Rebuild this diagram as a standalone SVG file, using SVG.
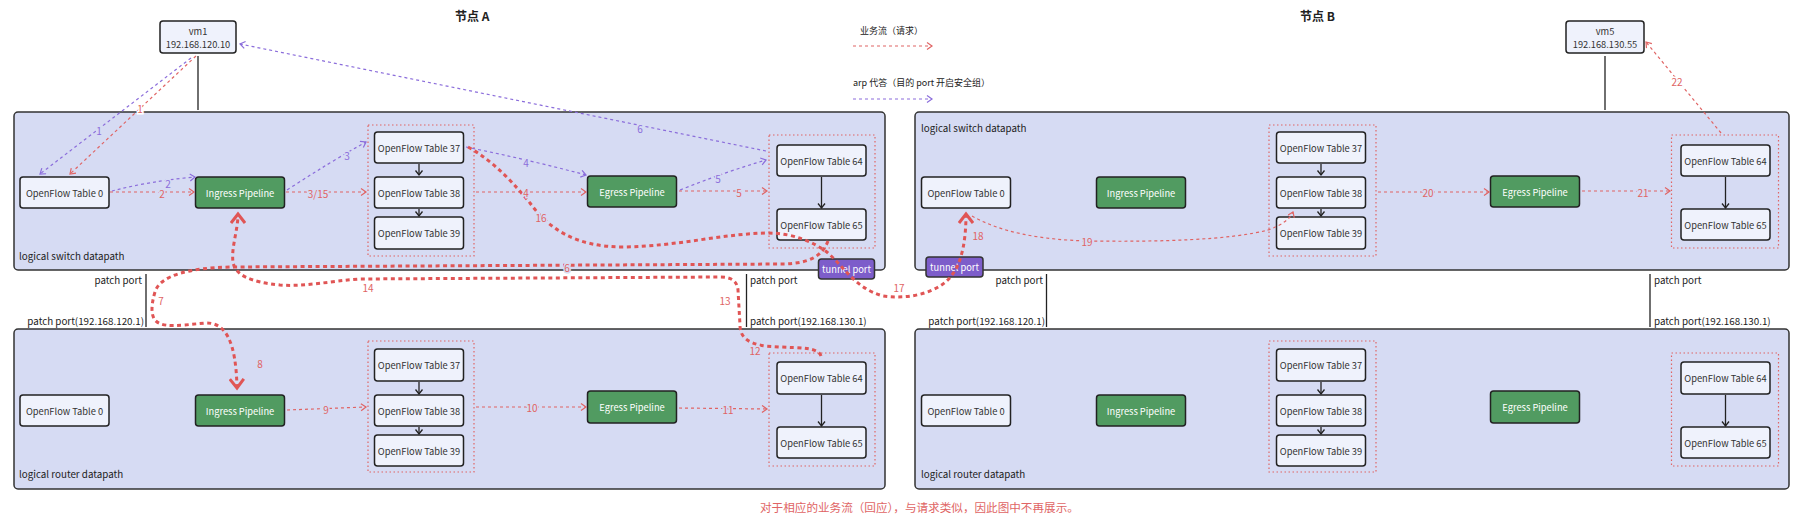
<svg xmlns="http://www.w3.org/2000/svg" width="1797" height="524" viewBox="0 0 1797 524">
<style>
text{font-family:"Noto Sans CJK SC","Noto Sans",sans-serif;}
.box{fill:#d6dbf3;stroke:#333;stroke-width:1.5;}
.node{fill:#eff2fc;stroke:#222;stroke-width:1.5;}
.green{fill:#519b61;stroke:#222;stroke-width:1.5;}
.tun{fill:#7d5dca;stroke:#333;stroke-width:1.5;}
.grp{fill:none;stroke:#e06464;stroke-width:1.2;stroke-dasharray:1.5 2.5;}
.nt{font-size:9.3px;fill:#333;text-anchor:middle;dominant-baseline:central;}
.wt{font-size:9.3px;fill:#fff;text-anchor:middle;dominant-baseline:central;}
.cap{font-size:9.8px;fill:#222;}
.title{font-size:12px;font-weight:bold;fill:#222;}
.red{fill:none;stroke:#e06464;stroke-width:1.2;stroke-dasharray:3 3;}
.pur{fill:none;stroke:#8b6ddb;stroke-width:1.2;stroke-dasharray:3 3;}
.thick{fill:none;stroke:#e05555;stroke-width:3;stroke-dasharray:4 3.5;}
.blk{fill:none;stroke:#222;stroke-width:1.3;}
.lr{font-size:10px;fill:#e06464;text-anchor:middle;dominant-baseline:central;paint-order:stroke;stroke:#d6dbf3;stroke-width:3;}
.lrw{font-size:10px;fill:#e06464;text-anchor:middle;dominant-baseline:central;paint-order:stroke;stroke:#fff;stroke-width:3;}
.lp{font-size:10px;fill:#8b6ddb;text-anchor:middle;dominant-baseline:central;paint-order:stroke;stroke:#d6dbf3;stroke-width:3;}
</style>
<defs>
<marker id="ar" markerUnits="userSpaceOnUse" markerWidth="10" markerHeight="10" refX="6" refY="4" orient="auto"><path d="M1,0.5 L6,4 L1,7.5" fill="none" stroke="#e06464" stroke-width="1.2"/></marker>
<marker id="ap" markerUnits="userSpaceOnUse" markerWidth="10" markerHeight="10" refX="6" refY="4" orient="auto"><path d="M1,0.5 L6,4 L1,7.5" fill="none" stroke="#8b6ddb" stroke-width="1.2"/></marker>
<marker id="at" markerUnits="userSpaceOnUse" markerWidth="16" markerHeight="16" refX="10" refY="8" orient="auto"><path d="M1,1 L10,8 L1,15" fill="none" stroke="#e05555" stroke-width="3"/></marker>
<marker id="ab" markerUnits="userSpaceOnUse" markerWidth="10" markerHeight="10" refX="5" refY="4" orient="auto"><path d="M0.5,0.5 L5,4 L0.5,7.5" fill="none" stroke="#222" stroke-width="1.3"/></marker>
</defs>
<rect width="1797" height="524" fill="#fff"/>

<text class="title" x="455" y="21">节点 A</text>
<text class="title" x="1300" y="21">节点 B</text>

<g id="legend">
<text class="cap" x="860" y="34" style="font-size:9px">业务流（请求）</text>
<path class="red" d="M853,46 L932,46" marker-end="url(#ar)"/>
<text class="cap" x="853" y="86" style="font-size:9px">arp 代答（目的 port 开启安全组）</text>
<path class="pur" d="M853,99 L932,99" marker-end="url(#ap)"/>
</g>

<g id="switchA">
<rect class="box" x="14" y="112" width="871" height="158" rx="4"/>
<text class="cap" x="19" y="260">logical switch datapath</text>
</g>
<g id="switchB">
<rect class="box" x="915" y="112" width="874" height="158" rx="4"/>
<text class="cap" x="921" y="132">logical switch datapath</text>
</g>
<g id="routerA">
<rect class="box" x="14" y="329" width="871" height="160" rx="4"/>
<text class="cap" x="19" y="478">logical router datapath</text>
</g>
<g id="routerB">
<rect class="box" x="915" y="329" width="874" height="160" rx="4"/>
<text class="cap" x="921" y="478">logical router datapath</text>
</g>

<g id="vm1"><rect class="node" x="160" y="21" width="76" height="32" rx="3"/><text class="nt" x="198" y="31">vm1</text><text class="nt" x="198" y="44">192.168.120.10</text></g>
<g id="vm5"><rect class="node" x="1566" y="21" width="78" height="32" rx="3"/><text class="nt" x="1605" y="31">vm5</text><text class="nt" x="1605" y="44">192.168.130.55</text></g>

<!-- switch A nodes -->
<g id="sA-t0"><rect class="node" x="20" y="177" width="89" height="31" rx="3"/><text class="nt" x="64.5" y="192.5">OpenFlow Table 0</text></g>
<g id="sA-ing"><rect class="green" x="195.5" y="177" width="89" height="31" rx="3"/><text class="wt" x="240" y="192.5">Ingress Pipeline</text></g>
<g id="sA-g1"><rect class="grp" x="368" y="125" width="106" height="131"/></g>
<g id="sA-t37"><rect class="node" x="374.5" y="132" width="89" height="31" rx="3"/><text class="nt" x="419" y="147.5">OpenFlow Table 37</text></g>
<g id="sA-t38"><rect class="node" x="374.5" y="177" width="89" height="31" rx="3"/><text class="nt" x="419" y="192.5">OpenFlow Table 38</text></g>
<g id="sA-t39"><rect class="node" x="374.5" y="217" width="89" height="32" rx="3"/><text class="nt" x="419" y="233">OpenFlow Table 39</text></g>
<g id="sA-eg"><rect class="green" x="587.5" y="176" width="89" height="31" rx="3"/><text class="wt" x="632" y="191.5">Egress Pipeline</text></g>
<g id="sA-g2"><rect class="grp" x="769" y="135" width="106" height="113"/></g>
<g id="sA-t64"><rect class="node" x="777" y="145" width="89" height="31" rx="3"/><text class="nt" x="821.5" y="160.5">OpenFlow Table 64</text></g>
<g id="sA-t65"><rect class="node" x="777" y="209" width="89" height="31" rx="3"/><text class="nt" x="821.5" y="224.5">OpenFlow Table 65</text></g>
<g id="tunA"><rect class="tun" x="818.5" y="259" width="56" height="20" rx="3"/><text class="wt" x="846.5" y="269">tunnel port</text></g>

<!-- switch B nodes -->
<g id="sB-t0"><rect class="node" x="921.5" y="177" width="89" height="31" rx="3"/><text class="nt" x="966" y="192.5">OpenFlow Table 0</text></g>
<g id="sB-ing"><rect class="green" x="1096.5" y="177" width="89" height="31" rx="3"/><text class="wt" x="1141" y="192.5">Ingress Pipeline</text></g>
<g id="sB-g1"><rect class="grp" x="1269" y="125" width="107" height="131"/></g>
<g id="sB-t37"><rect class="node" x="1276.5" y="132" width="89" height="31" rx="3"/><text class="nt" x="1321" y="147.5">OpenFlow Table 37</text></g>
<g id="sB-t38"><rect class="node" x="1276.5" y="177" width="89" height="31" rx="3"/><text class="nt" x="1321" y="192.5">OpenFlow Table 38</text></g>
<g id="sB-t39"><rect class="node" x="1276.5" y="217" width="89" height="32" rx="3"/><text class="nt" x="1321" y="233">OpenFlow Table 39</text></g>
<g id="sB-eg"><rect class="green" x="1490.5" y="176" width="89" height="31" rx="3"/><text class="wt" x="1535" y="191.5">Egress Pipeline</text></g>
<g id="sB-g2"><rect class="grp" x="1671.5" y="135" width="107" height="113"/></g>
<g id="sB-t64"><rect class="node" x="1681" y="145" width="89" height="31" rx="3"/><text class="nt" x="1725.5" y="160.5">OpenFlow Table 64</text></g>
<g id="sB-t65"><rect class="node" x="1681" y="209" width="89" height="31" rx="3"/><text class="nt" x="1725.5" y="224.5">OpenFlow Table 65</text></g>
<g id="tunB"><rect class="tun" x="926" y="257" width="57" height="20" rx="3"/><text class="wt" x="954.5" y="267">tunnel port</text></g>

<!-- router A nodes -->
<g id="rA-t0"><rect class="node" x="20" y="395" width="89" height="31" rx="3"/><text class="nt" x="64.5" y="410.5">OpenFlow Table 0</text></g>
<g id="rA-ing"><rect class="green" x="195.5" y="395" width="89" height="31" rx="3"/><text class="wt" x="240" y="410.5">Ingress Pipeline</text></g>
<g id="rA-g1"><rect class="grp" x="368" y="341" width="106" height="131"/></g>
<g id="rA-t37"><rect class="node" x="374.5" y="349" width="89" height="32" rx="3"/><text class="nt" x="419" y="365">OpenFlow Table 37</text></g>
<g id="rA-t38"><rect class="node" x="374.5" y="395" width="89" height="31" rx="3"/><text class="nt" x="419" y="410.5">OpenFlow Table 38</text></g>
<g id="rA-t39"><rect class="node" x="374.5" y="435" width="89" height="31" rx="3"/><text class="nt" x="419" y="450.5">OpenFlow Table 39</text></g>
<g id="rA-eg"><rect class="green" x="587.5" y="391" width="89" height="32" rx="3"/><text class="wt" x="632" y="407">Egress Pipeline</text></g>
<g id="rA-g2"><rect class="grp" x="769" y="353" width="106" height="113"/></g>
<g id="rA-t64"><rect class="node" x="777" y="362" width="89" height="32" rx="3"/><text class="nt" x="821.5" y="378">OpenFlow Table 64</text></g>
<g id="rA-t65"><rect class="node" x="777" y="427" width="89" height="31" rx="3"/><text class="nt" x="821.5" y="442.5">OpenFlow Table 65</text></g>

<!-- router B nodes -->
<g id="rB-t0"><rect class="node" x="921.5" y="395" width="89" height="31" rx="3"/><text class="nt" x="966" y="410.5">OpenFlow Table 0</text></g>
<g id="rB-ing"><rect class="green" x="1096.5" y="395" width="89" height="31" rx="3"/><text class="wt" x="1141" y="410.5">Ingress Pipeline</text></g>
<g id="rB-g1"><rect class="grp" x="1269" y="341" width="107" height="131"/></g>
<g id="rB-t37"><rect class="node" x="1276.5" y="349" width="89" height="32" rx="3"/><text class="nt" x="1321" y="365">OpenFlow Table 37</text></g>
<g id="rB-t38"><rect class="node" x="1276.5" y="395" width="89" height="31" rx="3"/><text class="nt" x="1321" y="410.5">OpenFlow Table 38</text></g>
<g id="rB-t39"><rect class="node" x="1276.5" y="435" width="89" height="31" rx="3"/><text class="nt" x="1321" y="450.5">OpenFlow Table 39</text></g>
<g id="rB-eg"><rect class="green" x="1490.5" y="391" width="89" height="32" rx="3"/><text class="wt" x="1535" y="407">Egress Pipeline</text></g>
<g id="rB-g2"><rect class="grp" x="1671.5" y="353" width="107" height="113"/></g>
<g id="rB-t64"><rect class="node" x="1681" y="362" width="89" height="32" rx="3"/><text class="nt" x="1725.5" y="378">OpenFlow Table 64</text></g>
<g id="rB-t65"><rect class="node" x="1681" y="427" width="89" height="31" rx="3"/><text class="nt" x="1725.5" y="442.5">OpenFlow Table 65</text></g>

<g id="patch-labels">
<text class="cap" x="142" y="284" text-anchor="end">patch port</text>
<text class="cap" x="144" y="325" text-anchor="end">patch port(192.168.120.1)</text>
<text class="cap" x="750" y="284">patch port</text>
<text class="cap" x="750" y="325">patch port(192.168.130.1)</text>
<text class="cap" x="1043" y="284" text-anchor="end">patch port</text>
<text class="cap" x="1045" y="325" text-anchor="end">patch port(192.168.120.1)</text>
<text class="cap" x="1654" y="284">patch port</text>
<text class="cap" x="1654" y="325">patch port(192.168.130.1)</text>
</g>

<g id="connectors">
<!-- solid links -->
<path class="blk" d="M198,56 L198,110"/>
<path class="blk" d="M1605,56 L1605,110"/>
<path class="blk" d="M146,274 L146,327"/>
<path class="blk" d="M746.5,274 L746.5,327"/>
<path class="blk" d="M1046.5,274 L1046.5,327"/>
<path class="blk" d="M1650,274 L1650,327"/>
<path class="blk" d="M419,164 L419,175" marker-end="url(#ab)"/>
<path class="blk" d="M419,209 L419,216" marker-end="url(#ab)"/>
<path class="blk" d="M821.5,177 L821.5,208" marker-end="url(#ab)"/>
<path class="blk" d="M1321,164 L1321,175" marker-end="url(#ab)"/>
<path class="blk" d="M1321,209 L1321,216" marker-end="url(#ab)"/>
<path class="blk" d="M1725.5,177 L1725.5,208" marker-end="url(#ab)"/>
<path class="blk" d="M419,382 L419,394" marker-end="url(#ab)"/>
<path class="blk" d="M419,427 L419,434" marker-end="url(#ab)"/>
<path class="blk" d="M821.5,395 L821.5,426" marker-end="url(#ab)"/>
<path class="blk" d="M1321,382 L1321,394" marker-end="url(#ab)"/>
<path class="blk" d="M1321,427 L1321,434" marker-end="url(#ab)"/>
<path class="blk" d="M1725.5,395 L1725.5,426" marker-end="url(#ab)"/>

<!-- arp (purple) -->
<path class="pur" d="M191,58 L40,174" marker-end="url(#ap)"/>
<path class="pur" d="M112,191 Q150,181 195,177" marker-end="url(#ap)"/>
<path class="pur" d="M287,190 Q330,162 366,142" marker-end="url(#ap)"/>
<path class="pur" d="M466,147 Q530,160 586,175" marker-end="url(#ap)"/>
<path class="pur" d="M680,190 Q725,172 766,160" marker-end="url(#ap)"/>
<path class="pur" d="M766,151 L240,44" marker-end="url(#ap)"/>

<!-- business flow (red thin) -->
<path class="red" d="M196,56 L70,174" marker-end="url(#ar)"/>
<path class="red" d="M110,192 L194,192" marker-end="url(#ar)"/>
<path class="red" d="M286,192 L366,192" marker-end="url(#ar)"/>
<path class="red" d="M476,192 L586,192" marker-end="url(#ar)"/>
<path class="red" d="M679,191 L767,191" marker-end="url(#ar)"/>
<path class="red" d="M287,410 L366,407" marker-end="url(#ar)"/>
<path class="red" d="M476,407 L586,407" marker-end="url(#ar)"/>
<path class="red" d="M679,408 L767,409" marker-end="url(#ar)"/>
<path class="red" d="M972,216 C1000,232 1040,240 1090,241 C1160,242 1230,240 1268,230 C1282,225 1290,219 1293,212" marker-end="url(#ar)"/>
<path class="red" d="M1378,192 L1489,192" marker-end="url(#ar)"/>
<path class="red" d="M1582,191 L1670,191" marker-end="url(#ar)"/>
<path class="red" d="M1721,133 L1646,42" marker-end="url(#ar)"/>

<!-- thick paths -->
<path class="thick" d="M828,241 C822,257 808,263 785,264 L230,267 C190,268 160,275 155,292 C151,305 151,315 155,320 C160,326 170,326 185,325 L205,323 C225,322 236,340 237,388" marker-end="url(#at)"/>
<path class="thick" d="M821,356 C818,347 800,348 780,347 L765,346 C745,343 740,335 740,325 L738,290 C737,280 730,277 720,277 L360,279 C330,281 305,287 280,285 C250,282 235,275 233,262 C231,248 238,230 238,214" marker-end="url(#at)"/>
<path class="thick" d="M468,147 C495,162 515,185 530,203 C548,228 575,247 623,247 C680,246 720,234 767,233 C795,233 815,243 828,253 C845,268 855,288 883,296 C910,300 940,292 952,275 C962,262 966,240 966,214" marker-end="url(#at)"/>
</g>

<g id="connector-labels">
<text class="lrw" x="140" y="108">1</text>
<text class="lp" x="99" y="130">1</text>
<text class="lr" x="162" y="193">2</text>
<text class="lp" x="168" y="183">2</text>
<text class="lr" x="318" y="193">3/15</text>
<text class="lp" x="347" y="155">3</text>
<text class="lr" x="526" y="192">4</text>
<text class="lp" x="526" y="162">4</text>
<text class="lr" x="739" y="192">5</text>
<text class="lp" x="718" y="178">5</text>
<text class="lp" x="640" y="128">6</text>
<text class="lr" x="567" y="267">6</text>
<text class="lrw" x="161" y="300">7</text>
<text class="lr" x="260" y="363">8</text>
<text class="lr" x="326" y="409">9</text>
<text class="lr" x="532" y="407">10</text>
<text class="lr" x="728" y="409">11</text>
<text class="lr" x="755" y="350">12</text>
<text class="lrw" x="725" y="300">13</text>
<text class="lrw" x="368" y="287">14</text>
<text class="lr" x="541" y="217">16</text>
<text class="lrw" x="899" y="287">17</text>
<text class="lr" x="978" y="235">18</text>
<text class="lr" x="1087" y="241">19</text>
<text class="lr" x="1428" y="192">20</text>
<text class="lr" x="1643" y="192">21</text>
<text class="lrw" x="1677" y="81">22</text>
</g>

<text x="760" y="512" style="font-size:11.6px;fill:#e06464">对于相应的业务流（回应），与请求类似，因此图中不再展示。</text>
</svg>
